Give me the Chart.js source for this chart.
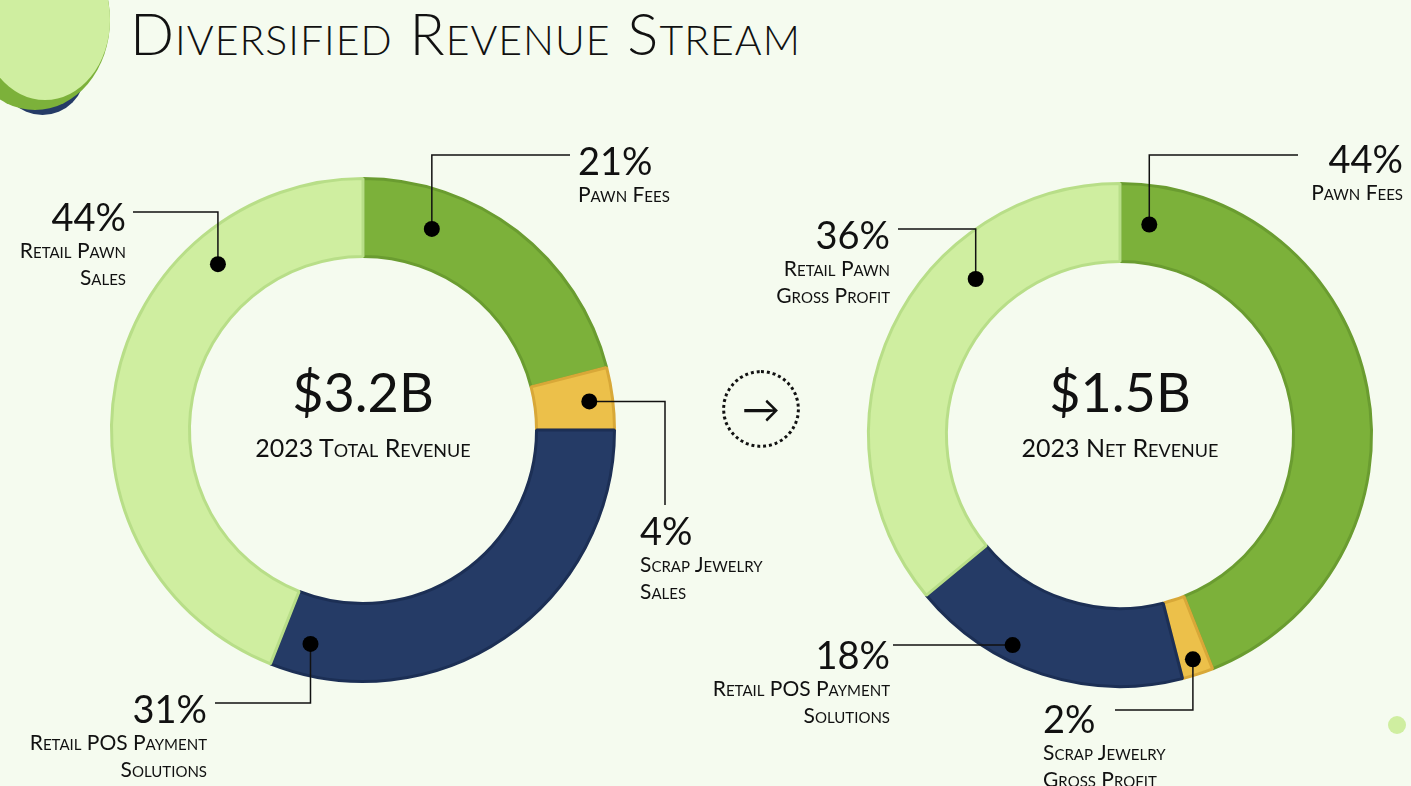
<!DOCTYPE html>
<html><head><meta charset="utf-8">
<script src="https://cdn.jsdelivr.net/npm/chart.js@4"></script>
<style>
body{margin:0;width:1411px;height:786px;background:#f5fbef;overflow:hidden;font-family:Lato,"Open Sans",sans-serif;color:#111;position:relative}
canvas{position:absolute;left:0;top:0}
.t{position:absolute;font-variant:small-caps;white-space:nowrap}
h1{position:absolute;left:130px;top:-2px;margin:0;font-weight:300;font-size:58px;font-variant:small-caps;letter-spacing:1px;color:#111}
.pct{font-size:38px;line-height:40px}
.lab{font-size:21px;line-height:27px}
.big{font-size:54px;line-height:60px}
.sub{font-size:25px;font-variant:small-caps;margin-top:10px}
.r{text-align:right}.c{text-align:center}
.blob{position:absolute;border-radius:50%}
</style></head><body>
<div class="blob" style="left:0px;top:30px;width:85px;height:85px;background:#253b66"></div>
<div class="blob" style="left:-40px;top:-70px;width:150px;height:180px;background:#7cb13a"></div>
<div class="blob" style="left:-20px;top:-60px;width:130px;height:160px;background:#cfeea0"></div>
<div class="blob" style="left:1388px;top:716px;width:18px;height:18px;background:#cfeea0"></div>
<h1>Diversified Revenue Stream</h1>
<canvas id="c1" width="1411" height="786"></canvas>
<canvas id="c2" width="1411" height="786"></canvas>

<div class="t c" style="left:213px;top:362px;width:300px"><div class="big">$3.2B</div><div class="sub">2023 Total Revenue</div></div>
<div class="t c" style="left:970px;top:362px;width:300px"><div class="big">$1.5B</div><div class="sub">2023 Net Revenue</div></div>

<div class="t" style="left:578px;top:140px"><div class="pct">21%</div><div class="lab">Pawn Fees</div></div>
<div class="t r" style="left:10px;top:196px;width:116px"><div class="pct">44%</div><div class="lab">Retail Pawn<br>Sales</div></div>
<div class="t" style="left:640px;top:510px"><div class="pct">4%</div><div class="lab">Scrap Jewelry<br>Sales</div></div>
<div class="t r" style="left:0px;top:688px;width:207px"><div class="pct">31%</div><div class="lab">Retail POS Payment<br>Solutions</div></div>

<div class="t r" style="left:1240px;top:138px;width:163px"><div class="pct">44%</div><div class="lab">Pawn Fees</div></div>
<div class="t r" style="left:700px;top:214px;width:190px"><div class="pct">36%</div><div class="lab">Retail Pawn<br>Gross Profit</div></div>
<div class="t r" style="left:690px;top:634px;width:200px"><div class="pct">18%</div><div class="lab">Retail POS Payment<br>Solutions</div></div>
<div class="t" style="left:1043px;top:698px"><div class="pct">2%</div><div class="lab">Scrap Jewelry<br>Gross Profit</div></div>

<div class="blob" style="left:722px;top:370px;width:78px;height:78px;border:3px dotted #111;box-sizing:border-box;text-align:center;line-height:70px;font-size:38px">&rarr;</div>

<script>
const categories = ["Pawn Fees", "Scrap Jewelry", "Retail POS Payment Solutions", "Retail Pawn"];
const totalRevenue = [21, 4, 31, 44];
const netRevenue = [44, 2, 18, 36];
const colors = ["#7cb13a", "#ecc04a", "#253b66", "#cfeea0"];
const borders = ["#6a9c30", "#d8a838", "#1c2f55", "#b8de88"];

// leader: dot fraction along arc, radial position, route, end point (y null = stay at dot height)
const leaders1 = [
  {f: 0.25, rr: 0.5, v: true, x: 570, y: 155},
  {f: 0.5, rr: 0.7, v: false, x: 665, y: 505},
  {f: 0.93, rr: 0.6, v: true, x: 215, y: 703},
  {f: 0.74, rr: 0.6, v: true, x: 133, y: 212}
];
const leaders2 = [
  {f: 0.05, rr: 0.5, v: true, x: 1298, y: 155},
  {f: 0.5, rr: 0.8, v: true, x: 1115, y: 710},
  {f: 0.64, rr: 0.8, v: false, x: 893, y: null},
  {f: 0.67, rr: 0.5, v: true, x: 898, y: 229}
];

const leaderPlugin = {
  id: "leaders",
  afterDatasetsDraw(chart, args, opts) {
    const ctx = chart.ctx;
    chart.getDatasetMeta(0).data.forEach((arc, i) => {
      const L = opts.list[i];
      const a = arc.startAngle + L.f * (arc.endAngle - arc.startAngle);
      const r = arc.innerRadius + L.rr * (arc.outerRadius - arc.innerRadius);
      const px = arc.x + Math.cos(a) * r, py = arc.y + Math.sin(a) * r;
      const ey = L.y === null ? py : L.y;
      ctx.save();
      ctx.strokeStyle = "#111"; ctx.lineWidth = 1.5;
      ctx.beginPath(); ctx.moveTo(px, py);
      if (L.v) { ctx.lineTo(px, ey); ctx.lineTo(L.x, ey); }
      else { ctx.lineTo(L.x, py); ctx.lineTo(L.x, ey); }
      ctx.stroke();
      ctx.fillStyle = "#000";
      ctx.beginPath(); ctx.arc(px, py, 8, 0, Math.PI * 2); ctx.fill();
      ctx.restore();
    });
  }
};

function donut(id, data, pad, list) {
  new Chart(document.getElementById(id), {
    type: "doughnut",
    data: {labels: categories, datasets: [{data: data, backgroundColor: colors, borderColor: borders, borderWidth: 3}]},
    options: {
      responsive: false, animation: false, cutout: "69%",
      layout: {padding: pad},
      plugins: {legend: {display: false}, tooltip: {enabled: false}, leaders: {list: list}}
    },
    plugins: [leaderPlugin]
  });
}
donut("c1", totalRevenue, {left: 110, right: 795, top: 177, bottom: 103}, leaders1);
donut("c2", netRevenue, {left: 867, right: 38, top: 182, bottom: 98}, leaders2);
</script>
</body></html>
